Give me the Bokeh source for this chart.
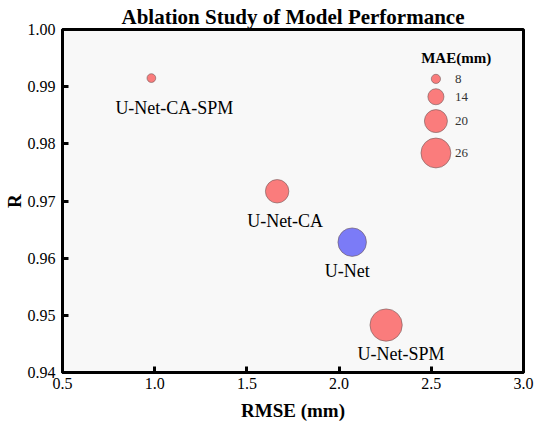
from bokeh.plotting import figure
from bokeh.models import ColumnDataSource, LabelSet, FixedTicker, NumeralTickFormatter, Range1d
from bokeh.embed import file_html
from bokeh.resources import INLINE

# ---- data ----
models = ["U-Net-CA-SPM", "U-Net-CA", "U-Net", "U-Net-SPM"]
rmse = [0.982, 1.664, 2.071, 2.255]
r_vals = [0.9915, 0.9717, 0.9628, 0.9483]
mae = [7.6, 20.4, 24.8, 28.1]

legend_mae = [8, 14, 20, 26]
x_ticks = [0.5, 1.0, 1.5, 2.0, 2.5, 3.0]
y_ticks = [0.94, 0.95, 0.96, 0.97, 0.98, 0.99, 1.00]

# ---- style ----
SERIF = "Liberation Serif"
RED = "#FA7C7C"
BLUE = "#7B7BF7"
size_scale = 1.15
colors = [RED, RED, BLUE, RED]
label_dx = [23, 8, -5, 15]
label_dy = [-30, -30, -29, -29]

x0, x1 = x_ticks[0], x_ticks[-1]
y0, y1 = y_ticks[0], y_ticks[-1]

p = figure(width=534, height=424, output_backend="svg", toolbar_location=None,
           x_range=Range1d(x0, x1), y_range=Range1d(y0, y1),
           min_border_left=56, min_border_right=11, min_border_top=29, min_border_bottom=52)

p.title.text = "Ablation Study of Model Performance"
p.title.text_font = SERIF
p.title.text_font_size = "21px"
p.title.text_font_style = "bold"
p.title.text_color = "black"
p.title.align = "center"
p.title.standoff = 2

p.background_fill_color = "#F8F8F8"
p.border_fill_color = "white"
p.outline_line_color = "black"
p.outline_line_width = 3
p.xgrid.visible = False
p.ygrid.visible = False

for ax, ticks, fmt, lab in ((p.xaxis[0], x_ticks, "0.0", "RMSE (mm)"),
                            (p.yaxis[0], y_ticks, "0.00", "R")):
    ax.ticker = FixedTicker(ticks=ticks)
    ax.formatter = NumeralTickFormatter(format=fmt)
    ax.axis_label = lab
    ax.axis_label_text_font = SERIF
    ax.axis_label_text_font_style = "bold"
    ax.axis_label_text_font_size = "19px"
    ax.axis_label_text_color = "black"
    ax.major_label_text_font = SERIF
    ax.major_label_text_font_size = "16px"
    ax.major_label_text_color = "black"
    ax.axis_line_color = "black"
    ax.axis_line_width = 3
    ax.major_tick_in = 6
    ax.major_tick_out = 0
    ax.major_tick_line_width = 3
    ax.major_tick_line_color = "black"
    ax.minor_tick_line_color = None

p.xaxis.major_label_standoff = 5
p.xaxis.axis_label_standoff = 8
p.yaxis.major_label_standoff = 7
p.yaxis.axis_label_standoff = 0

src = ColumnDataSource(dict(
    x=rmse, y=r_vals, name=models,
    size=[m * size_scale for m in mae],
    color=colors, dx=label_dx, dy=label_dy,
))
p.scatter("x", "y", size="size", source=src, fill_color="color",
          line_color="#6E5A5A", line_width=0.6)

labels = LabelSet(x="x", y="y", text="name", source=src,
                  x_offset="dx", y_offset="dy",
                  text_align="center", text_baseline="middle",
                  text_font=SERIF, text_font_size="18px", text_color="black")
p.add_layout(labels)

# ---- size legend ----
leg_fx = 0.810
leg_fy = [0.144, 0.196, 0.267, 0.360]
leg_x = [x0 + leg_fx * (x1 - x0)] * len(legend_mae)
leg_y = [y1 - f * (y1 - y0) for f in leg_fy]
leg_src = ColumnDataSource(dict(
    x=leg_x, y=leg_y, size=[m * size_scale for m in legend_mae],
    txt=[str(m) for m in legend_mae],
))
p.scatter("x", "y", size="size", source=leg_src, fill_color=RED,
          line_color="#6E5A5A", line_width=0.6)
p.add_layout(LabelSet(x="x", y="y", text="txt", source=leg_src,
                      x_offset=19, y_offset=0, text_align="left", text_baseline="middle",
                      text_font=SERIF, text_font_size="13px", text_color="#333333"))

title_src = ColumnDataSource(dict(
    x=[x0 + 0.854 * (x1 - x0)], y=[y1 - 0.0826 * (y1 - y0)], txt=["MAE(mm)"],
))
p.add_layout(LabelSet(x="x", y="y", text="txt", source=title_src,
                      text_align="center", text_baseline="middle",
                      text_font=SERIF, text_font_size="15px", text_font_style="bold",
                      text_color="black"))

open("out.html", "w").write(file_html(p, INLINE))
